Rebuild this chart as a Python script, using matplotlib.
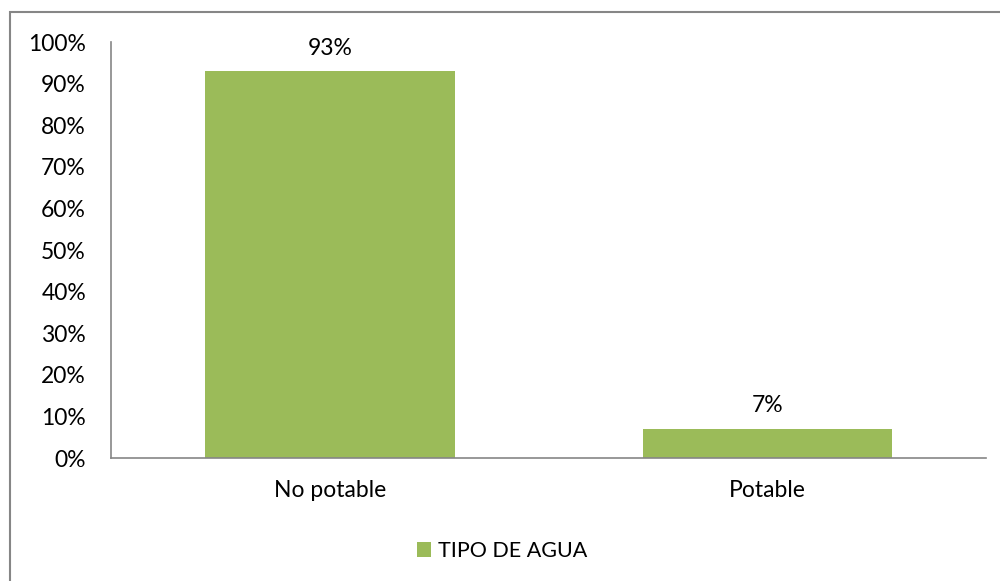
import matplotlib.pyplot as plt
from matplotlib.patches import Rectangle

# data
categories = ["No potable", "Potable"]
values = [0.93, 0.07]
labels = ["93%", "7%"]
yticks = [0, 0.1, 0.2, 0.3, 0.4, 0.5, 0.6, 0.7, 0.8, 0.9, 1.0]
series_name = "TIPO DE AGUA"

bar_color = "#9BBB59"
spine_color = "#868686"
plt.rcParams["font.family"] = ["Lato", "DejaVu Sans"]
fs = 16.5

fig = plt.figure(figsize=(10, 5.81), dpi=100)
ax = fig.add_axes([0.111, 0.2117, 0.8755, 0.716])

# outer chart frame (runs past the right and bottom edges)
fig.patches.append(Rectangle((0.010, -0.05), 1.05, 0.05 + 1 - 12 / 581,
                             transform=fig.transFigure, fill=False,
                             edgecolor=spine_color, linewidth=1.5))

x = range(len(categories))
bars = ax.bar(x, values, width=0.57, color=bar_color, label=series_name)
for xi, v, lab in zip(x, values, labels):
    ax.annotate(lab, (xi, v), xytext=(0, 9), textcoords="offset points",
                ha="center", va="bottom", fontsize=fs)

ax.set_xlim(-0.5, 1.5)
ax.set_ylim(0, 1)
ax.set_yticks(yticks)
ax.set_yticklabels([f"{int(round(t * 100))}%" for t in yticks], fontsize=fs)
ax.set_xticks(list(x))
ax.set_xticklabels(categories, fontsize=fs)
ax.tick_params(axis="x", length=0, pad=16)
ax.tick_params(axis="y", length=0, pad=18)

for s in ["top", "right"]:
    ax.spines[s].set_visible(False)
for s in ["left", "bottom"]:
    ax.spines[s].set_color(spine_color)
    ax.spines[s].set_linewidth(1.2)

fig.legend(handles=[bars], labels=[series_name], loc="center",
           bbox_to_anchor=(0.502, 1 - 551 / 581), frameon=False, fontsize=15.5,
           handlelength=0.65, handleheight=0.65, handletextpad=0.3)

fig.savefig("out.png", dpi=100)
